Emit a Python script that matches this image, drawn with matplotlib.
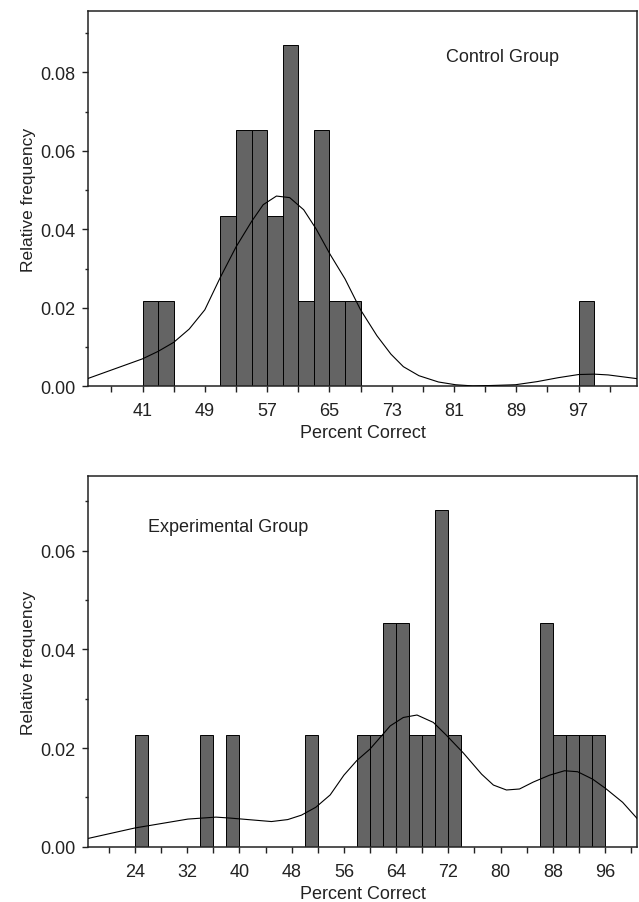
import matplotlib
matplotlib.use("Agg")
import matplotlib.pyplot as plt
from matplotlib.ticker import MultipleLocator, FixedLocator

plt.rcParams['font.family'] = ['Liberation Sans', 'DejaVu Sans']

# ---------------- data ----------------
# Control group: bin left edges (width 2) and counts (n = 23)
ctrl_bin_left = [41, 43, 51, 53, 55, 57, 59, 61, 63, 65, 67, 97]
ctrl_counts   = [1, 1, 2, 3, 3, 2, 4, 1, 3, 1, 1, 1]
ctrl_n = 23
# Control density curve
ctrl_curve_x = [34.0, 41.0, 43.0, 45.0, 47.0, 49.0, 51.0, 53.0, 55.0, 56.5, 58.2,
                59.9, 61.7, 63.3, 65.1, 67.0, 69.0, 71.1, 72.9, 74.5, 76.5, 79.0,
                81.2, 83.4, 85.7, 88.9, 91.7, 94.4, 97.0, 99.0, 100.8, 104.7]
ctrl_curve_y = [0.0020, 0.0070, 0.0089, 0.0112, 0.0146, 0.0195, 0.0278, 0.0355,
                0.0420, 0.0463, 0.0485, 0.0481, 0.0450, 0.0401, 0.0336, 0.0274,
                0.0195, 0.0129, 0.0082, 0.0050, 0.0027, 0.0011, 0.0004, 0.0001,
                0.0002, 0.0004, 0.0012, 0.0022, 0.0030, 0.0031, 0.0029, 0.0019]

# Experimental group: bin left edges (width 2) and counts (n = 22)
exp_bin_left = [24, 34, 38, 50, 58, 60, 62, 64, 66, 68, 70, 72, 86, 88, 90, 92, 94]
exp_counts   = [1, 1, 1, 1, 1, 1, 2, 2, 1, 1, 3, 1, 2, 1, 1, 1, 1]
exp_n = 22
exp_curve_x = [16.9, 24.0, 32.1, 36.4, 38.6, 44.9, 47.4, 49.5, 51.7, 53.9, 56.0,
               58.0, 60.0, 63.1, 65.1, 67.2, 69.7, 71.7, 74.3, 77.1, 78.9, 80.9,
               82.9, 85.0, 87.5, 89.8, 91.8, 94.1, 96.1, 98.7, 101.0]
exp_curve_y = [0.0017, 0.0038, 0.0056, 0.0060, 0.0058, 0.0051, 0.0055, 0.0064,
               0.0080, 0.0105, 0.0145, 0.0175, 0.0198, 0.0245, 0.0262, 0.0267,
               0.0252, 0.0226, 0.0190, 0.0147, 0.0125, 0.0115, 0.0117, 0.0131,
               0.0145, 0.0154, 0.0152, 0.0137, 0.0118, 0.0090, 0.0056]

bin_width = 2
ctrl_xticks = [41, 49, 57, 65, 73, 81, 89, 97]
exp_xticks = [24, 32, 40, 48, 56, 64, 72, 80, 88, 96]
ctrl_yticks = [0.00, 0.02, 0.04, 0.06, 0.08]
exp_yticks = [0.00, 0.02, 0.04, 0.06]

BAR_COLOR = '#646464'
FS = 13

fig = plt.figure(figsize=(6.39, 9.03), dpi=100)
W, H = 639, 903

def make_axes(top_px, bottom_px, left_px=88, right_px=637):
    return fig.add_axes([left_px / W, 1 - bottom_px / H,
                         (right_px - left_px) / W, (bottom_px - top_px) / H])

ax1 = make_axes(12.3, 387.3)
ax2 = make_axes(477.3, 847.7)

def style(ax, xlim, ylim, xticks, yticks, label_text, tx, ty):
    ax.set_xlim(*xlim)
    ax.set_ylim(*ylim)
    ax.set_xticks(xticks)
    ax.xaxis.set_minor_locator(FixedLocator([t + 4 for t in xticks] + [xticks[0] - 4]))
    ax.set_yticks(yticks)
    ax.set_yticklabels([f"{v:.2f}" for v in yticks])
    ax.yaxis.set_minor_locator(MultipleLocator(0.01))
    for sp in ax.spines.values():
        sp.set_linewidth(1.1)
        sp.set_color('#222222')
    ax.tick_params(axis='x', which='both', direction='out', length=4.5, width=1.0,
                   pad=7, labelsize=FS, colors='#222222')
    ax.tick_params(axis='y', which='major', direction='out', length=4.5, width=1.0,
                   pad=4.5, labelsize=FS, colors='#222222')
    ax.tick_params(axis='y', which='minor', direction='out', length=2.5, width=1.0,
                   colors='#222222')
    ax.set_xlabel('Percent Correct', fontsize=FS, labelpad=3.5, color='#222222')
    ax.set_ylabel('Relative frequency', fontsize=12.5, labelpad=3, color='#222222')
    ax.text(tx, ty, label_text, transform=ax.transAxes, fontsize=FS,
            va='baseline', ha='left', color='#222222')

# Top: control group
ctrl_heights = [c / (ctrl_n * bin_width) for c in ctrl_counts]
ax1.bar(ctrl_bin_left, ctrl_heights, width=bin_width, align='edge',
        color=BAR_COLOR, edgecolor='black', linewidth=0.7, zorder=2)
ax1.plot(ctrl_curve_x, ctrl_curve_y, color='black', linewidth=0.8, zorder=3)
style(ax1, (34.0, 104.5), (0, 0.0956), ctrl_xticks, ctrl_yticks,
      'Control Group', 0.652, 0.8675)

# Bottom: experimental group
exp_heights = [c / (exp_n * bin_width) for c in exp_counts]
ax2.bar(exp_bin_left, exp_heights, width=bin_width, align='edge',
        color=BAR_COLOR, edgecolor='black', linewidth=0.7, zorder=2)
ax2.plot(exp_curve_x, exp_curve_y, color='black', linewidth=0.8, zorder=3)
style(ax2, (16.8, 100.9), (0, 0.0751), exp_xticks, exp_yticks,
      'Experimental Group', 0.109, 0.852)

fig.savefig('out.png', dpi=100)
